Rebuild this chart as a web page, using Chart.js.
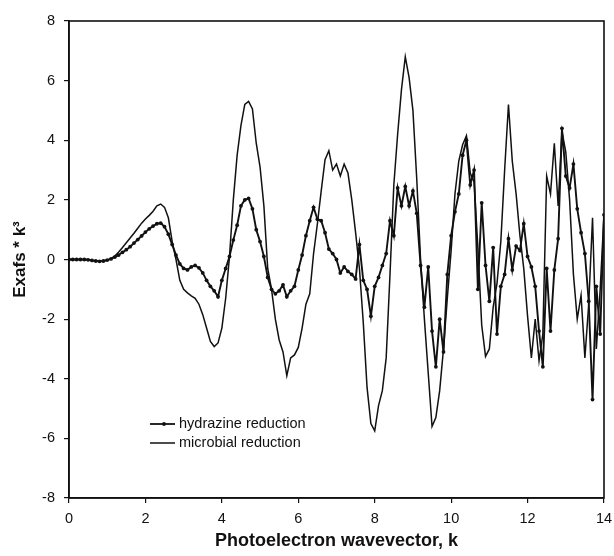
<!DOCTYPE html>
<html>
<head>
<meta charset="utf-8">
<script src="https://cdn.jsdelivr.net/npm/chart.js@4.4.1/dist/chart.umd.min.js"></script>
<style>
  html, body { margin: 0; padding: 0; background: #fff; }
</style>
</head>
<body>
<canvas id="chart" width="614" height="556"></canvas>
<script>
// Photoelectron wavevector k (x axis)
const kValues = [
  0.0, 0.1, 0.2, 0.3, 0.4, 0.5, 0.6, 0.7, 0.8, 0.9,
  1.0, 1.1, 1.2, 1.3, 1.4, 1.5, 1.6, 1.7, 1.8, 1.9,
  2.0, 2.1, 2.2, 2.3, 2.4, 2.5, 2.6, 2.7, 2.8, 2.9,
  3.0, 3.1, 3.2, 3.3, 3.4, 3.5, 3.6, 3.7, 3.8, 3.9,
  4.0, 4.1, 4.2, 4.3, 4.4, 4.5, 4.6, 4.7, 4.8, 4.9,
  5.0, 5.1, 5.2, 5.3, 5.4, 5.5, 5.6, 5.7, 5.8, 5.9,
  6.0, 6.1, 6.2, 6.3, 6.4, 6.5, 6.6, 6.7, 6.8, 6.9,
  7.0, 7.1, 7.2, 7.3, 7.4, 7.5, 7.6, 7.7, 7.8, 7.9,
  8.0, 8.1, 8.2, 8.3, 8.4, 8.5, 8.6, 8.7, 8.8, 8.9,
  9.0, 9.1, 9.2, 9.3, 9.4, 9.5, 9.6, 9.7, 9.8, 9.9,
  10.0, 10.1, 10.2, 10.3, 10.4, 10.5, 10.6, 10.7, 10.8, 10.9,
  11.0, 11.1, 11.2, 11.3, 11.4, 11.5, 11.6, 11.7, 11.8, 11.9,
  12.0, 12.1, 12.2, 12.3, 12.4, 12.5, 12.6, 12.7, 12.8, 12.9,
  13.0, 13.1, 13.2, 13.3, 13.4, 13.5, 13.6, 13.7, 13.8, 13.9,
  14.0
];

// Exafs * k^3, hydrazine reduction (line with markers)
const hydrazine = [
  0, 0, 0, 0, 0, -0.01, -0.03, -0.05, -0.06, -0.05,
  -0.02, 0.02, 0.08, 0.15, 0.24, 0.33, 0.43, 0.55, 0.67, 0.79,
  0.92, 1.03, 1.12, 1.2, 1.22, 1.1, 0.85, 0.5, 0.15, -0.15,
  -0.3, -0.35, -0.25, -0.2, -0.28, -0.45, -0.7, -0.9, -1.05, -1.25,
  -0.7, -0.3, 0.1, 0.65, 1.15, 1.8, 2.0, 2.05, 1.7, 1.0,
  0.6, 0.1, -0.6, -1.0, -1.15, -1.05, -0.85, -1.25, -1.05, -0.9,
  -0.35, 0.15, 0.8, 1.3, 1.75, 1.35, 1.3, 0.9, 0.35, 0.2,
  0.0, -0.45, -0.25, -0.4, -0.5, -0.65, 0.5, -0.7, -1.0, -1.9,
  -0.9, -0.6, -0.2, 0.2, 1.3, 0.8, 2.4, 1.8, 2.45, 1.8,
  2.3, 1.55, -0.2, -1.6, -0.25, -2.4, -3.6, -2.0, -3.1, -0.5,
  0.8, 1.6, 2.2, 3.5, 4.0, 2.5, 3.0, -1.0, 1.9, -0.2,
  -1.4, 0.4, -2.5, -0.9, -0.5, 0.7, -0.35, 0.45, 0.3, 1.2,
  0.1, -0.25, -0.9, -2.4, -3.6, -0.3, -2.4, -0.35, 0.7, 4.4,
  2.8, 2.4, 3.2, 1.7, 0.9, 0.2, -1.4, -4.7, -0.9, -2.5,
  1.5
];

// Exafs * k^3, microbial reduction (plain line)
const microbial = [
  0, 0, 0, 0, 0, -0.01, -0.03, -0.05, -0.06, -0.05,
  -0.02, 0.03, 0.12, 0.25, 0.4, 0.56, 0.72, 0.88, 1.05, 1.22,
  1.36, 1.48, 1.62, 1.8, 1.86, 1.75, 1.4, 0.6, 0.0, -0.7,
  -1.0, -1.12, -1.22, -1.3, -1.5, -1.85, -2.3, -2.75, -2.92, -2.8,
  -2.3, -1.3, 0.1, 2.0, 3.5, 4.5, 5.2, 5.3, 5.05, 3.9,
  3.1, 1.8, -0.3, -1.0, -2.0, -2.7, -3.1, -3.9, -3.3, -3.2,
  -2.95, -2.3, -1.5, -1.15, 0.2, 1.2, 2.3, 3.35, 3.65, 3.0,
  3.2, 2.8, 3.2, 2.9, 2.0, 0.9, -0.3, -2.1, -4.3, -5.5,
  -5.75, -4.9, -4.4, -3.3, -0.5, 2.5, 4.2, 5.7, 6.8, 6.1,
  5.0, 2.7, 0.0, -2.0, -3.8, -5.6, -5.3, -4.4, -3.0, -1.3,
  0.3, 2.2, 3.3, 3.85, 4.15, 2.9, 2.6, 0.4, -2.2, -3.25,
  -3.0, -1.6, -0.8, 0.6, 3.0, 5.2, 3.3, 2.2, 0.8, -0.3,
  -1.9, -3.3, -2.0, -3.4, -2.5, 2.8, 2.2, 3.9, 1.8, 4.3,
  3.6, 2.0, -0.5, -2.0, -1.2, -3.3, -1.5, 1.4, -3.0, -1.0,
  1.5
];

const seriesNames = ['hydrazine reduction', 'microbial reduction'];
const xTitle = 'Photoelectron wavevector, k';
const yTitle = 'Exafs * k\u00b3';

Chart.defaults.font.family = 'Arial, "Liberation Sans", sans-serif';
Chart.defaults.color = '#111';

const ink = '#111';

// box around the plot area (top and right edges)
const frame = {
    id: 'frame',
    afterDatasetsDraw(chart) {
        const { ctx, chartArea: a } = chart;
        ctx.save();
        ctx.strokeStyle = ink;
        ctx.lineWidth = 1.6;
        ctx.strokeRect(a.left, a.top, a.right - a.left, a.bottom - a.top);
        ctx.restore();
    }
};

// legend sits inside the plot, lower left
const insideLegend = {
    id: 'insideLegend',
    afterDraw(chart) {
        const ctx = chart.ctx;
        const rows = [424, 443];
        ctx.save();
        ctx.font = '14.5px Arial, "Liberation Sans", sans-serif';
        ctx.textBaseline = 'middle';
        ctx.fillStyle = ink;
        ctx.strokeStyle = ink;
        rows.forEach((y, i) => {
            ctx.lineWidth = i === 0 ? 1.8 : 1.5;
            ctx.beginPath();
            ctx.moveTo(150, y);
            ctx.lineTo(175, y);
            ctx.stroke();
            if (i === 0) {
                ctx.beginPath();
                ctx.arc(164, y, 1.9, 0, Math.PI * 2);
                ctx.fill();
            }
            ctx.fillText(seriesNames[i], 179, y);
        });
        ctx.restore();
    }
};

const ctx = document.getElementById('chart').getContext('2d');
new Chart(ctx, {
    type: 'line',
    data: {
        datasets: [
            {
                label: seriesNames[0],
                data: kValues.map((k, i) => ({ x: k, y: hydrazine[i] })),
                borderColor: ink,
                backgroundColor: ink,
                borderWidth: 1.9,
                pointRadius: 1.9,
                pointBorderWidth: 0,
                pointBackgroundColor: ink,
                tension: 0
            },
            {
                label: seriesNames[1],
                data: kValues.map((k, i) => ({ x: k, y: microbial[i] })),
                borderColor: ink,
                borderWidth: 1.5,
                pointRadius: 0,
                tension: 0
            }
        ]
    },
    options: {
        responsive: false,
        animation: false,
        layout: { padding: { top: 21, right: 10, left: 0, bottom: 0 } },
        plugins: {
            legend: { display: false },
            tooltip: { enabled: false }
        },
        scales: {
            x: {
                type: 'linear',
                min: 0,
                max: 14,
                ticks: { stepSize: 2, color: ink, font: { size: 14.5 }, padding: 7 },
                grid: { drawOnChartArea: false, tickLength: 5, color: ink, lineWidth: 1.2 },
                border: { color: ink, width: 1.6 },
                title: { display: true, text: xTitle, color: ink, font: { size: 18, weight: 'bold' }, padding: { top: 0 } },
                afterFit: s => { s.height = 58; s.paddingRight = 0; s.paddingLeft = 0; }
            },
            y: {
                min: -8,
                max: 8,
                ticks: { stepSize: 2, color: ink, font: { size: 14.5 }, padding: 9 },
                grid: { drawOnChartArea: false, tickLength: 5, color: ink, lineWidth: 1.2 },
                border: { color: ink, width: 1.6 },
                title: { display: true, text: yTitle, color: ink, font: { size: 17, weight: 'bold' }, padding: { top: 10, bottom: 0 } },
                afterFit: s => { s.width = 69; s.paddingTop = 0; s.paddingBottom = 0; }
            }
        }
    },
    plugins: [frame, insideLegend]
});
</script>
</body>
</html>
